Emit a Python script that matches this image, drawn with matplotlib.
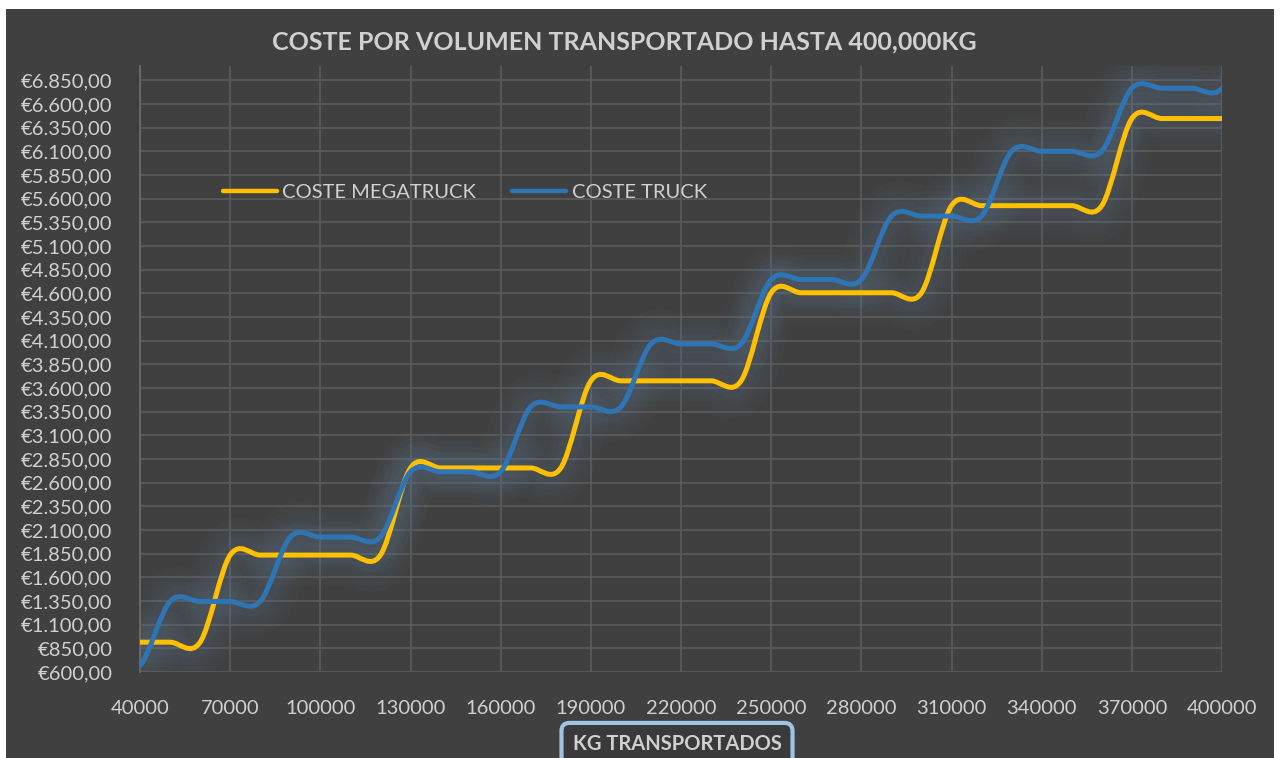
import numpy as np
import matplotlib
matplotlib.use('Agg')
import matplotlib.pyplot as plt
from matplotlib.path import Path
from matplotlib.patches import PathPatch, Rectangle
from matplotlib.lines import Line2D

plt.rcParams['font.family'] = ['Lato', 'DejaVu Sans']

# kg transported (data runs a little past the visible axis range)
kg = [30000, 40000, 50000, 60000, 70000, 80000, 90000, 100000, 110000, 120000,
      130000, 140000, 150000, 160000, 170000, 180000, 190000, 200000, 210000, 220000,
      230000, 240000, 250000, 260000, 270000, 280000, 290000, 300000, 310000, 320000,
      330000, 340000, 350000, 360000, 370000, 380000, 390000, 400000, 410000]

coste_megatruck = [915, 915, 915, 915, 1835, 1835, 1835, 1835, 1835, 1835,
                   2755, 2755, 2755, 2755, 2755, 2755, 3675, 3675, 3675, 3675,
                   3675, 3675, 4605, 4605, 4605, 4605, 4605, 4605, 5525, 5525,
                   5525, 5525, 5525, 5525, 6445, 6445, 6445, 6445, 6445]

coste_truck = [670, 670, 1345, 1345, 1345, 1345, 2025, 2025, 2025, 2025,
               2715, 2715, 2715, 2715, 3400, 3400, 3400, 3400, 4065, 4065,
               4065, 4065, 4745, 4745, 4745, 4745, 5415, 5415, 5415, 5415,
               6100, 6100, 6100, 6100, 6765, 6765, 6765, 6765, 7440]

x_ticks = list(range(40000, 400001, 30000))
y_ticks = list(range(600, 6851, 250))

title = 'COSTE POR VOLUMEN TRANSPORTADO HASTA 400,000KG'
x_title = 'KG TRANSPORTADOS'
labels = ['COSTE MEGATRUCK', 'COSTE TRUCK']
colors = ['#FFC000', '#2E75B6']

BG = '#404040'
TXT = '#d0d0d0'
GRID = '#595959'


def smooth_path(x, y):
    # Excel style smoothed line: cubic bezier through the points
    x = np.asarray(x, float)
    y = np.asarray(y, float)
    n = len(x)
    verts = [(x[0], y[0])]
    codes = [Path.MOVETO]
    for i in range(n - 1):
        p0 = max(i - 1, 0)
        p3 = min(i + 2, n - 1)
        c1 = (x[i] + (x[i + 1] - x[p0]) / 6, y[i] + (y[i + 1] - y[p0]) / 6)
        c2 = (x[i + 1] - (x[p3] - x[i]) / 6, y[i + 1] - (y[p3] - y[i]) / 6)
        verts += [c1, c2, (x[i + 1], y[i + 1])]
        codes += [Path.CURVE4] * 3
    return Path(verts, codes)


W, H = 1280, 758
fig = plt.figure(figsize=(W / 100, H / 100), dpi=100, facecolor='white')
fig.patches.append(Rectangle((6 / W, 0), (1274 - 6) / W, (H - 9) / H,
                             transform=fig.transFigure, facecolor=BG,
                             edgecolor='none', zorder=-5))

ax = fig.add_axes([140 / W, (H - 672) / H, 1082 / W, 606 / H])
ax.set_facecolor(BG)
ax.set_xlim(40000, 400000)
ax.set_ylim(600, 7000)
ax.set_xticks(x_ticks)
ax.set_yticks(y_ticks)

def euro(v):
    s = f'{v:,.2f}'.replace(',', 'X').replace('.', ',').replace('X', '.')
    return '€' + s

ax.set_yticklabels([euro(v) for v in y_ticks])
ax.set_xticklabels([str(v) for v in x_ticks])
ax.tick_params(axis='both', length=0, colors=TXT, labelsize=14.5)
ax.tick_params(axis='x', pad=20)
ax.tick_params(axis='y', pad=20)
ax.grid(True, color=GRID, linewidth=1.3)
ax.set_axisbelow(True)
for s in ['top', 'right', 'bottom']:
    ax.spines[s].set_visible(False)
ax.spines['left'].set_color('#6a6a6a')
ax.spines['left'].set_linewidth(1.3)

series = [coste_megatruck, coste_truck]

# soft glow under the lines
for vals in series:
    p = smooth_path(kg, vals)
    for lw, a in [(44, 0.03), (36, 0.035), (29, 0.04), (22, 0.045), (15, 0.05)]:
        ax.add_patch(PathPatch(p, fill=False, edgecolor='#6a88a6', linewidth=lw,
                               alpha=a, capstyle='round', joinstyle='round', zorder=2))

for vals, c in zip(series, colors):
    p = smooth_path(kg, vals)
    ax.add_patch(PathPatch(p, fill=False, edgecolor=c, linewidth=3.6,
                           capstyle='round', joinstyle='round', zorder=3))

handles = [Line2D([], [], color=c, linewidth=3.2, solid_capstyle='round') for c in colors]
leg = ax.legend(handles, labels, loc='center', bbox_to_anchor=(0.3, 0.792),
                ncol=2, frameon=False, fontsize=14.5, handlelength=2.7,
                handletextpad=0.25, columnspacing=1.8)
for t in leg.get_texts():
    t.set_color(TXT)

fig.text(624 / W, (H - 42) / H, title, ha='center', va='center', color=TXT,
         fontsize=18, fontweight='bold')

fig.text(677 / W, (H - 744) / H, x_title, ha='center', va='center', color=TXT,
         fontsize=14.5, fontweight='bold',
         bbox=dict(boxstyle='round,pad=0.55,rounding_size=0.4', facecolor='#3a3a3a',
                   edgecolor='#9dc3e6', linewidth=3))

fig.savefig('out.png', dpi=100, facecolor='white')
